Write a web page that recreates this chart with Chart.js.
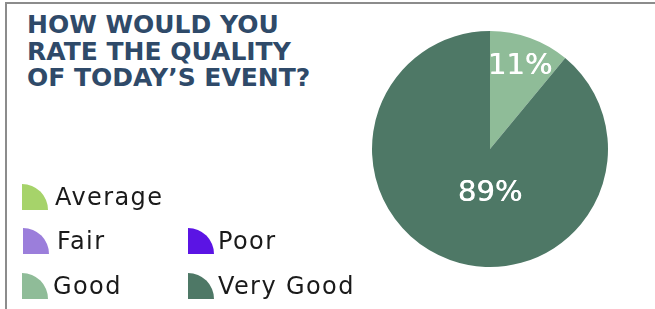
<!DOCTYPE html>
<html>
<head>
<meta charset="utf-8">
<script src="https://cdn.jsdelivr.net/npm/chart.js@4/dist/chart.umd.min.js"></script>
<style>
  html, body { margin: 0; padding: 0; background: #ffffff; }
  #wrap { position: relative; width: 655px; height: 309px; overflow: hidden; background: #fff; }
  #frame { position: absolute; left: 5px; top: 2px; right: -5px; bottom: -5px;
           border-top: 2px solid #8c8c8c; border-left: 2px solid #8c8c8c; }
  #c { position: absolute; left: 0; top: 0; }
  #title { position: absolute; left: 27px; top: 12px; margin: 0;
           font-family: "DejaVu Sans", sans-serif; font-weight: bold; font-size: 25px;
           line-height: 26.5px; color: #2f4a69; white-space: nowrap; }
  .lg { position: absolute; display: flex; align-items: flex-end;
        font-family: "DejaVu Sans", sans-serif; font-size: 24px; letter-spacing: 1.4px;
        color: #1a1a1a; white-space: nowrap; }
  .lg .ic { width: 26px; height: 26px; border-top-right-radius: 100%; flex: none; }
  .lg .tx { position: absolute; }
</style>
</head>
<body>
<div id="wrap">
  <div id="frame"></div>
  <div id="title">HOW WOULD YOU<br>RATE THE QUALITY<br>OF TODAY’S EVENT?</div>
  <canvas id="c" width="655" height="309"></canvas>
  <div id="legend"></div>
</div>
<script>
// ---- data ----
const categories = ["Average", "Fair", "Poor", "Good", "Very Good"];
const percentages = [0, 0, 0, 11, 89];
const sliceColors = ["#a6d36a", "#9b7edb", "#5b14e4", "#8fbc98", "#4e7866"];

// legend layout (style only): [left, top] of each icon, and text left offset
const legendSlots = { "Average": [22, 184, 33], "Fair": [23, 228, 34], "Poor": [188, 228, 30], "Good": [22, 273, 31], "Very Good": [188, 273, 30] };
// label placement style: fraction of radius and angle (deg clockwise from top); null angle = slice middle
const labelPlacement = { "Good": { r: 0.75, angle: null }, "Very Good": { r: 0.365, angle: 180 } };

const pctLabels = {
  id: 'pctLabels',
  afterDatasetsDraw(chart) {
    const ctx = chart.ctx;
    const meta = chart.getDatasetMeta(0);
    ctx.save();
    ctx.fillStyle = '#ffffff';
    ctx.font = '29px "DejaVu Sans", sans-serif';
    ctx.textAlign = 'center';
    ctx.textBaseline = 'middle';
    meta.data.forEach((arc, i) => {
      const v = chart.data.datasets[0].data[i];
      if (!v) return;
      const p = arc.getProps(['x', 'y', 'startAngle', 'endAngle', 'outerRadius'], true);
      const pl = labelPlacement[chart.data.labels[i]] || { r: 0.6, angle: null };
      const a = pl.angle === null ? (p.startAngle + p.endAngle) / 2 : (pl.angle - 90) * Math.PI / 180;
      const r = p.outerRadius * pl.r;
      const x = p.x + Math.cos(a) * r, y = p.y + Math.sin(a) * r + 1;
      ctx.fillText(v + '%', x, y);
      ctx.fillText(v + '%', x + 0.5, y);
    });
    ctx.restore();
  }
};

const chart = new Chart(document.getElementById('c'), {
  type: 'pie',
  data: {
    labels: categories,
    datasets: [{ data: percentages, backgroundColor: sliceColors, borderWidth: 0 }]
  },
  options: {
    responsive: false,
    animation: false,
    layout: { padding: { left: 372, right: 47, top: 31, bottom: 42 } },
    plugins: { legend: { display: false }, title: { display: false }, tooltip: { enabled: false } }
  },
  plugins: [pctLabels]
});

// HTML legend built from the chart's data
const lg = document.getElementById('legend');
chart.data.labels.forEach((lab, i) => {
  const slot = legendSlots[lab];
  const d = document.createElement('div');
  d.className = 'lg';
  d.style.left = slot[0] + 'px';
  d.style.top = slot[1] + 'px';
  const ic = document.createElement('div');
  ic.className = 'ic';
  ic.style.background = chart.data.datasets[0].backgroundColor[i];
  const tx = document.createElement('span');
  tx.className = 'tx';
  tx.textContent = lab;
  tx.style.left = slot[2] + 'px';
  tx.style.top = '-1px';
  d.appendChild(ic);
  d.appendChild(tx);
  lg.appendChild(d);
});
</script>
</body>
</html>
